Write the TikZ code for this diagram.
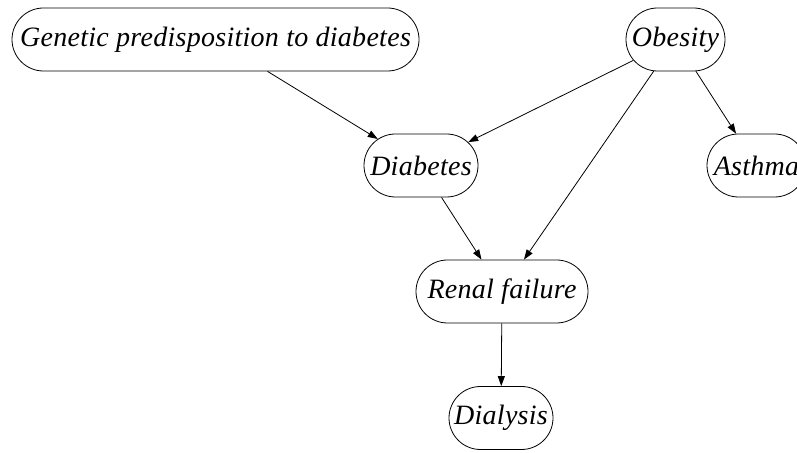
\documentclass[tikz,border=0pt]{standalone}
\usepackage{fontspec}
\setmainfont{Liberation Serif}[LetterSpace=1]
\usetikzlibrary{shapes.misc,arrows.meta}
\begin{document}
\begin{tikzpicture}[x=1pt,y=1pt,
  box/.style={draw, rounded rectangle, minimum height=63pt, inner xsep=2pt, inner ysep=0pt,
    font=\fontsize{28}{32}\selectfont\itshape, line width=0.8pt},
  edge/.style={-{Triangle[length=10pt,width=7pt]}, line width=0.8pt}]
\useasboundingbox (0,0) rectangle (797,452);
\begin{scope}
\clip (0,0) rectangle (797,452);
\node[box, minimum width=411pt] (gen) at (215.5,412.5) {Genetic predisposition to diabetes};
\node[box, minimum width=103pt] (obe) at (675.5,412.5) {Obesity};
\node[box, minimum width=118pt] (dia) at (421,286.5) {Diabetes};
\node[box, minimum width=103pt] (ast) at (756.5,286.5) {Asthma};
\node[box, minimum width=176pt] (ren) at (502,160.5) {Renal failure};
\node[box, minimum width=108pt] (dly) at (501,34) {Dialysis};
\draw[edge] (gen) -- (dia);
\draw[edge] (obe) -- (dia);
\draw[edge] (obe) -- (ren);
\draw[edge] (obe) -- (ast);
\draw[edge] (dia) -- (ren);
\draw[edge] (ren) -- (dly);
\end{scope}
\end{tikzpicture}
\end{document}
